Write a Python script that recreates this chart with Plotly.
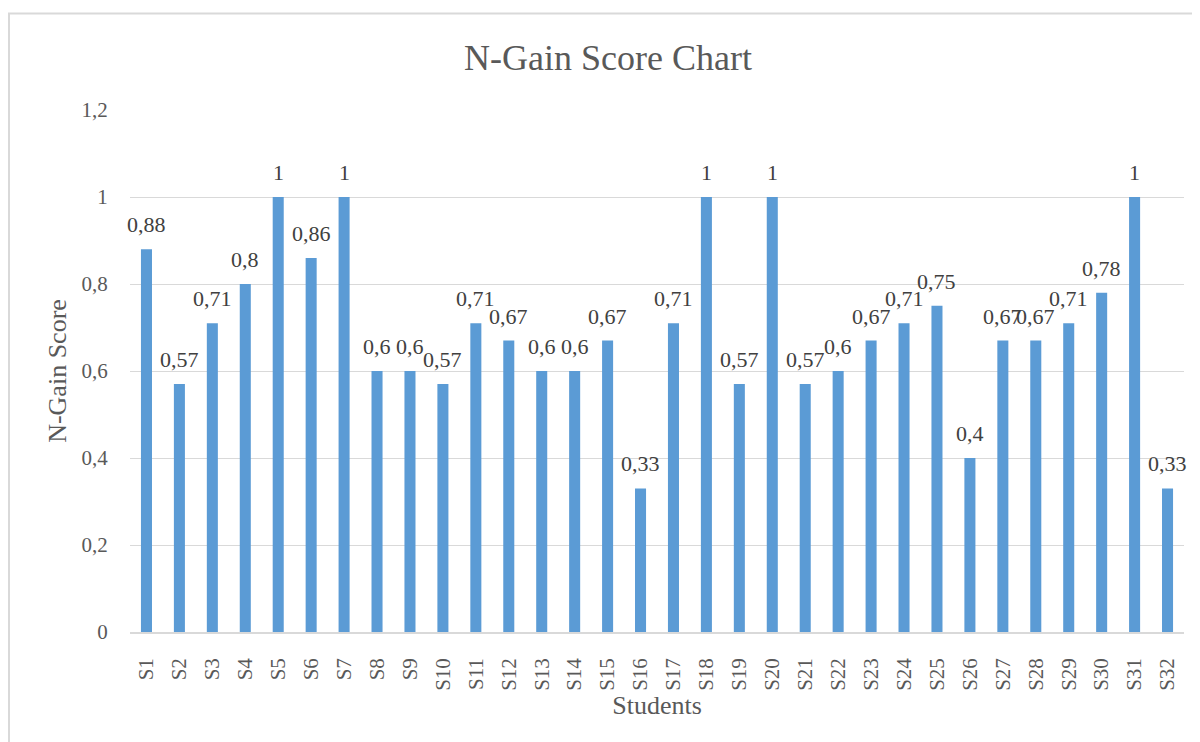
import plotly.graph_objects as go

students = [f"S{i}" for i in range(1, 33)]
scores = [0.88, 0.57, 0.71, 0.8, 1, 0.86, 1, 0.6, 0.6, 0.57, 0.71, 0.67, 0.6, 0.6, 0.67, 0.33,
          0.71, 1, 0.57, 1, 0.57, 0.6, 0.67, 0.71, 0.75, 0.4, 0.67, 0.67, 0.71, 0.78, 1, 0.33]
y_ticks = [0, 0.2, 0.4, 0.6, 0.8, 1, 1.2]
y_ticklabels = ["0", "0,2", "0,4", "0,6", "0,8", "1", "1,2"]

labels = [f"{v:g}".replace(".", ",") for v in scores]

FONT = "Liberation Serif, Times New Roman, serif"
GRAY = "#595959"
GRID = "#d9d9d9"

W, H = 1200, 742
ML, MR, MT, MB = 122, 24, 102, 118
pw, ph = W - ML - MR, H - MT - MB

fig = go.Figure(go.Bar(x=students, y=scores, marker=dict(color="#5B9BD5", line=dict(width=0)),
                       hoverinfo="x+y"))

for s, v, t in zip(students, scores, labels):
    fig.add_annotation(x=s, y=v, xref="x", yref="y", text=t, showarrow=False,
                       yanchor="bottom", yshift=10,
                       font=dict(family=FONT, size=22, color="#404040"))

# chart area border
fig.add_shape(type="rect", xref="paper", yref="paper",
              x0=(1 - ML) / pw, x1=(W + 20 - ML) / pw,
              y0=-(H + 20 - MT - ph) / ph, y1=(H - MB - 5.5) / ph,
              line=dict(color=GRID, width=2), fillcolor="rgba(0,0,0,0)", layer="below")

fig.update_layout(
    width=W, height=H,
    margin=dict(l=ML, r=MR, t=MT, b=MB),
    paper_bgcolor="white", plot_bgcolor="white",
    bargap=0.665,
    showlegend=False,
    font=dict(family=FONT, color=GRAY),
    title=dict(text="N-Gain Score Chart", x=600 / W, xref="container", xanchor="center",
               y=1 - 49 / H, yref="container", yanchor="middle",
               font=dict(family=FONT, size=36, color=GRAY)),
    xaxis=dict(
        title=dict(text="Students", font=dict(family=FONT, size=26, color=GRAY), standoff=4),
        tickangle=-90, tickfont=dict(family=FONT, size=21, color=GRAY),
        ticks="outside", ticklen=16, tickcolor="rgba(0,0,0,0)",
        showline=True, linecolor=GRID, linewidth=1.5,
        range=[-0.5, 31.5], showgrid=False, zeroline=False,
    ),
    yaxis=dict(
        title=dict(text="N-Gain Score", font=dict(family=FONT, size=26, color=GRAY), standoff=7),
        range=[0, 1.2], tickvals=y_ticks, ticktext=y_ticklabels,
        tickfont=dict(family=FONT, size=21, color=GRAY),
        ticks="outside", ticklen=17, tickcolor="rgba(0,0,0,0)",
        showgrid=True, gridcolor=GRID, gridwidth=1, zeroline=False, showline=False,
    ),
)

fig.write_html("out.html")
